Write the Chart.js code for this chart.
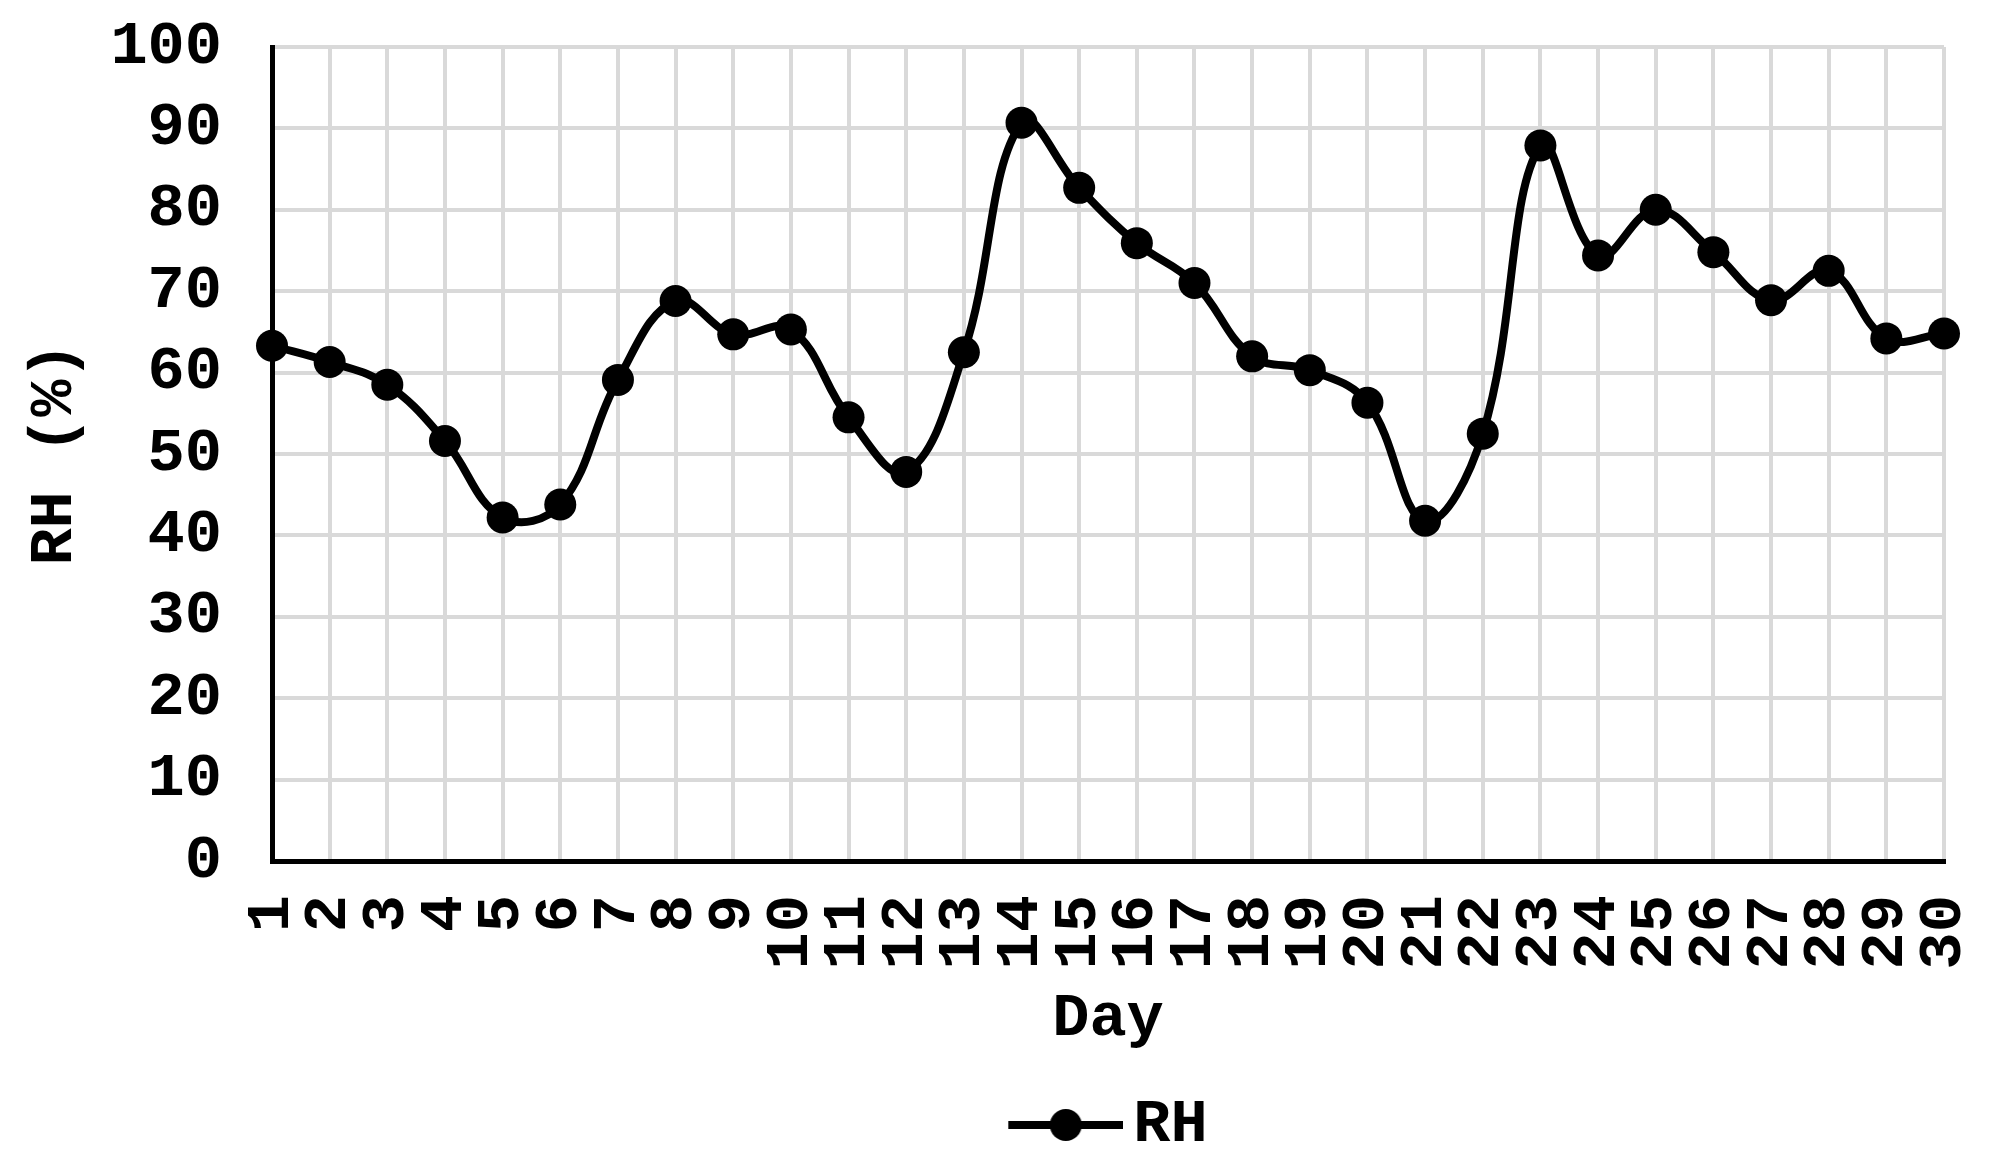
<!DOCTYPE html>
<html>
<head>
<meta charset="utf-8">
<script src="https://cdn.jsdelivr.net/npm/chart.js@4.4.1/dist/chart.umd.min.js"></script>
<style>
  html, body { margin: 0; padding: 0; background: #fff; }
  #wrap { width: 1992px; height: 1171px; }
</style>
</head>
<body>
<div id="wrap"><canvas id="rhChart" width="1992" height="1171"></canvas></div>
<script>
// data
const days = ['1','2','3','4','5','6','7','8','9','10','11','12','13','14','15',
              '16','17','18','19','20','21','22','23','24','25','26','27','28','29','30'];
const rhValues = [63.3, 61.3, 58.5, 51.6, 42.2, 43.8, 59.1, 68.8, 64.7, 65.3,
                  54.5, 47.8, 62.5, 90.7, 82.7, 75.9, 71.0, 62.0, 60.3, 56.3,
                  41.8, 52.5, 87.9, 74.4, 80.0, 74.8, 68.9, 72.5, 64.2, 64.8];
const yTicks = [0, 10, 20, 30, 40, 50, 60, 70, 80, 90, 100];

const FONT = "'Liberation Mono', 'Courier New', monospace";
const gridColor = '#d9d9d9';
const fontSize = 62;

// legend icon: line with a dot in the middle
const legendIcon = document.createElement('canvas');
legendIcon.width = 136;
legendIcon.height = 40;
(function () {
  const c = legendIcon.getContext('2d');
  c.strokeStyle = '#000';
  c.lineWidth = 8;
  c.beginPath();
  c.moveTo(21, 20);
  c.lineTo(136, 20);
  c.stroke();
  c.fillStyle = '#000';
  c.beginPath();
  c.arc(78.5, 20, 16, 0, Math.PI * 2);
  c.fill();
})();

Chart.defaults.font.family = FONT;
Chart.defaults.font.weight = 'bold';
Chart.defaults.font.size = fontSize;
Chart.defaults.color = '#000';

const ctx = document.getElementById('rhChart').getContext('2d');
new Chart(ctx, {
  type: 'line',
  data: {
    labels: days,
    datasets: [{
      label: 'RH',
      data: rhValues,
      borderColor: '#000',
      backgroundColor: '#000',
      borderWidth: 8,
      pointRadius: 16,
      pointHoverRadius: 16,
      pointBackgroundColor: '#000',
      pointBorderColor: '#000',
      pointBorderWidth: 0,
      tension: 0.4,
      clip: false,
      pointStyle: 'circle'
    }]
  },
  options: {
    responsive: false,
    animation: false,
    events: [],
    layout: { padding: { top: 47, right: 48, bottom: 5, left: 0 } },
    plugins: {
      tooltip: { enabled: false },
      legend: {
        position: 'bottom',
        fullSize: false,
        labels: {
          usePointStyle: true,
          pointStyle: legendIcon,
          pointStyleWidth: 94,
          padding: 10,
          color: '#000',
          font: { size: fontSize, weight: 'bold' },
          generateLabels: (chart) => [{
            text: 'RH',
            pointStyle: legendIcon,
            fillStyle: '#000',
            strokeStyle: '#000',
            lineWidth: 0,
            datasetIndex: 0
          }]
        }
      }
    },
    scales: {
      x: {
        offset: false,
        grid: { color: gridColor, lineWidth: 4, drawTicks: false },
        border: { color: '#000', width: 5 },
        ticks: {
          minRotation: 90,
          maxRotation: 90,
          autoSkip: false,
          padding: 34,
          font: { size: fontSize, weight: 'bold' }
        },
        title: {
          display: true,
          text: 'Day',
          font: { size: fontSize, weight: 'bold' },
          padding: { top: 0, bottom: 27 }
        },
        afterFit: (scale) => {
          scale.height = 223;
          scale.paddingLeft = 0;
          scale.paddingRight = 0;
        }
      },
      y: {
        min: 0,
        max: 100,
        afterBuildTicks: (scale) => { scale.ticks = yTicks.map(v => ({ value: v })); },
        grid: { color: gridColor, lineWidth: 4, drawTicks: false },
        border: { color: '#000', width: 5 },
        ticks: {
          padding: 50,
          font: { size: fontSize, weight: 'bold' }
        },
        title: {
          display: true,
          text: 'RH (%)',
          font: { size: fontSize, weight: 'bold' },
          padding: { top: 18, bottom: 0 }
        },
        afterFit: (scale) => {
          scale.width = 272;
          scale.paddingTop = 0;
          scale.paddingBottom = 0;
        }
      }
    }
  }
});
</script>
</body>
</html>
